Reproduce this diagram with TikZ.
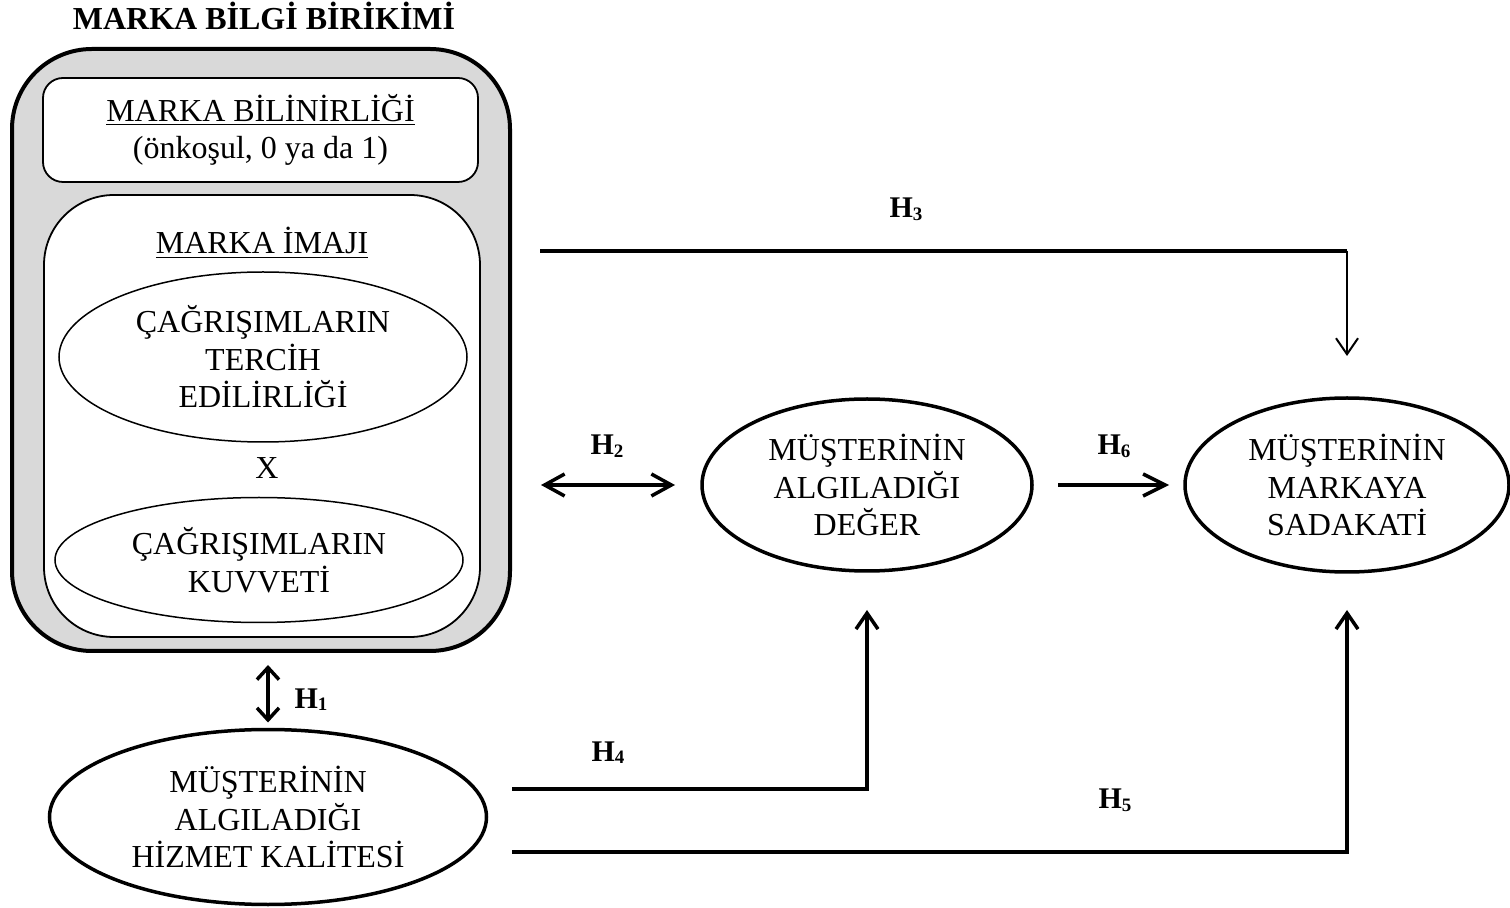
\documentclass[tikz,border=0pt]{standalone}
\usepackage{fontspec}
\setmainfont{Liberation Serif}
\usetikzlibrary{shapes.geometric,arrows.meta}
\definecolor{boxgray}{RGB}{217,217,217}
% bold hypothesis label with a lowered digit
\newcommand{\hyp}[1]{H\raisebox{-1.5pt}{\fontsize{9.5}{9.5}\selectfont #1}}

\begin{document}
\begin{tikzpicture}[x=0.5pt,y=-0.5pt,
  every node/.style={inner sep=0pt, outer sep=0pt, align=center,
    font=\fontsize{16}{18.75}\selectfont},
  thinell/.style={ellipse, draw, fill=white, line width=0.75pt},
  thickell/.style={ellipse, draw, line width=1.75pt},
  link/.style={line width=1.75pt, line cap=butt},
  tip/.style={-{Straight Barb[length=8pt,width=11pt]}},
  hlabel/.style={anchor=base, font=\fontsize{15}{15}\selectfont\bfseries}
]
\useasboundingbox (0,0) rectangle (1510,908);

% brand knowledge block
\node[anchor=base, font=\fontsize{16}{18.75}\selectfont\bfseries] (title) at (264,30) {MARKA BİLGİ BİRİKİMİ};
\node[draw, line width=2pt, fill=boxgray, rounded corners=40pt,
      minimum width=249pt, minimum height=301pt] (kbb) at (261,350) {};
\node[draw, line width=0.9pt, fill=white, rounded corners=10pt,
      minimum width=217.5pt, minimum height=52pt] (aware) at (260.5,130)
      {\underline{MARKA BİLİNİRLİĞİ}\\(önkoşul, 0 ya da 1)};
\node[draw, line width=0.9pt, fill=white, rounded corners=35pt,
      minimum width=218pt, minimum height=221pt] (image) at (262,416) {};
\node[anchor=base] (imgtitle) at (262,254) {\underline{MARKA İMAJI}};
\node[thinell, minimum width=204pt, minimum height=85pt] (pref) at (263,357)
      {ÇAĞRIŞIMLARIN\\TERCİH\\EDİLİRLİĞİ};
\node[anchor=base] (times) at (267,479) {X};
\node[thinell, minimum width=204pt, minimum height=62.5pt] (str) at (259,560)
      {ÇAĞRIŞIMLARIN\\KUVVETİ};

% outcome constructs
\node[thickell, minimum width=165pt, minimum height=86pt] (val) at (867,485)
      {MÜŞTERİNİN\\ALGILADIĞI\\DEĞER};
\node[thickell, minimum width=162pt, minimum height=87pt] (sad) at (1347,485)
      {MÜŞTERİNİN\\MARKAYA\\SADAKATİ};
\node[thickell, minimum width=218.5pt, minimum height=87.5pt] (hiz) at (268,817)
      {MÜŞTERİNİN\\ALGILADIĞI\\HİZMET KALİTESİ};

% free ends of the connectors
\coordinate (h3s) at (540,251);
\coordinate (h2s) at (541,485);
\coordinate (h4s) at (512,789);
\coordinate (h5s) at (512,852);
\coordinate (h3c) at (sad.north |- h3s);

% H1
\draw[link, {Straight Barb[length=6pt,width=11pt]}-{Straight Barb[length=6pt,width=11pt]},
      shorten <=3.5pt, shorten >=7pt] (hiz.north) -- (hiz.north |- kbb.south);
\node[hlabel] (l1) at (311,708) {\hyp{1}};
% H2
\draw[link, {Straight Barb[length=10pt,width=11pt]}-{Straight Barb[length=10pt,width=11pt]},
      shorten >=13.5pt] (h2s) -- (val.west);
\node[hlabel] (l2) at (607,455) {\hyp{2}};
% H3
\draw[link] (h3s) -- (h3c);
\draw[line width=1pt, tip, shorten >=21pt] (h3c) -- (sad.north);
\node[hlabel] (l3) at (906,218) {\hyp{3}};
% H4
\draw[link, tip, shorten >=19.5pt] (h4s) -| (val.south);
\node[hlabel] (l4) at (608,761) {\hyp{4}};
% H5
\draw[link, tip, shorten >=19pt] (h5s) -| (sad.south);
\node[hlabel] (l5) at (1115,808) {\hyp{5}};
% H6
\draw[link, -{Straight Barb[length=11pt,width=11pt]}, shorten <=13pt, shorten >=8pt]
      (val.east) -- (sad.west);
\node[hlabel] (l6) at (1114,455) {\hyp{6}};
\end{tikzpicture}
\end{document}
